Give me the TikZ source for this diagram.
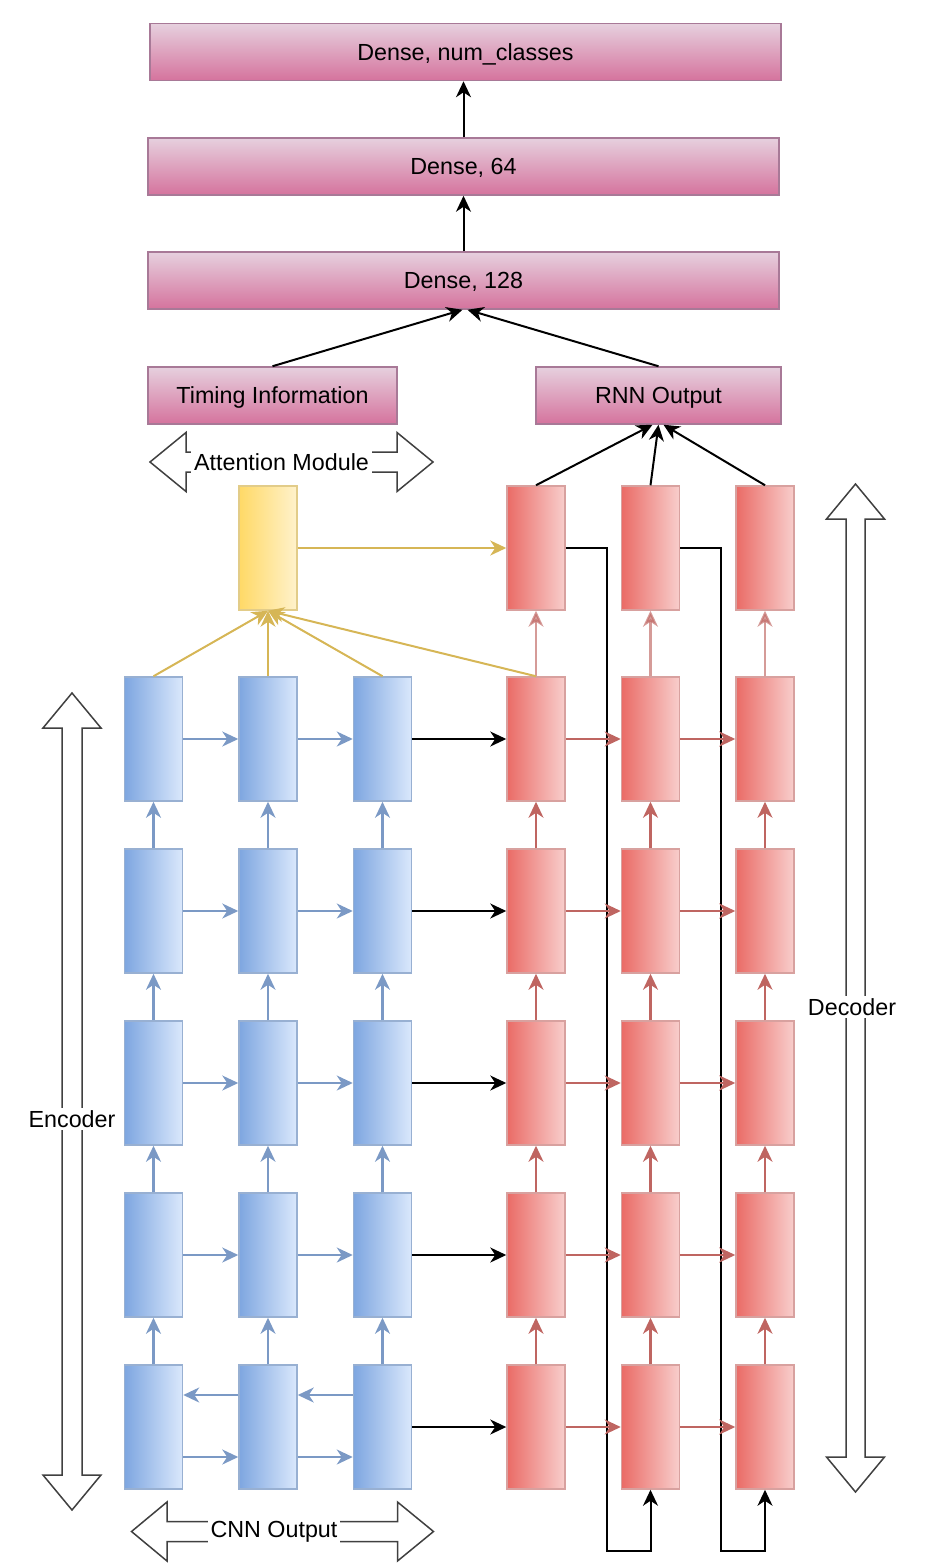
\documentclass[tikz,border=0pt]{standalone}
\usepackage{fontspec}
\setmainfont{Liberation Sans}
\usetikzlibrary{arrows.meta}

\definecolor{layerlight}{HTML}{E6D0DE}
\definecolor{layerdark}{HTML}{D5739D}
\definecolor{layerdraw}{HTML}{996185}
\definecolor{enclight}{HTML}{DAE8FC}
\definecolor{encdark}{HTML}{7EA6E0}
\definecolor{encline}{HTML}{6C8EBF}
\definecolor{declight}{HTML}{F8CECC}
\definecolor{decdark}{HTML}{EA6B66}
\definecolor{decline}{HTML}{B85450}
\definecolor{attlight}{HTML}{FFF2CC}
\definecolor{attdark}{HTML}{FFD966}
\definecolor{attline}{HTML}{D6B656}

\tikzset{
  txt/.style={font=\fontsize{23.3}{27}\selectfont},
  layer/.style={txt,minimum height=57pt,inner sep=0pt,line width=1.5pt,text depth=0pt,
    draw=layerdraw!85,top color=layerlight,bottom color=layerdark},
  cell/.style={minimum width=58pt,minimum height=124pt,inner sep=0pt,line width=1.5pt},
  enccell/.style={cell,draw=encline!70,left color=encdark,right color=enclight},
  deccell/.style={cell,draw=decline!55,left color=decdark,right color=declight},
  attcell/.style={cell,draw=attline!70,left color=attdark,right color=attlight},
  conn/.style={line width=2pt,black,->},
  encarrow/.style={line width=2.2pt,encline!90,->},
  decarrow/.style={line width=2.2pt,decline!90,->},
  attarrow/.style={line width=2pt,attline,->},
  bigarrow/.style={draw=black!75,line width=1.5pt,fill=white,line join=miter},
  tag/.style={txt,fill=white,inner sep=3pt}
}

\begin{document}
\begin{tikzpicture}[x=1pt,y=-1pt,>={Stealth[length=16pt,width=15pt,inset=5pt]}]
\useasboundingbox (0,0) rectangle (932,1564);

% dense head
\node[layer,minimum width=631pt] (out) at (465.5,52) {Dense, num\_classes};
\node[layer,minimum width=631pt] (d64) at (463.5,166.5) {Dense, 64};
\node[layer,minimum width=631pt] (d128) at (463.5,280.5) {Dense, 128};
\node[layer,minimum width=249pt] (timing) at (272.5,395.5) {Timing Information};
\node[layer,minimum width=245pt] (rnnout) at (658.5,395.5) {RNN Output};
\draw[conn] (d128.north) -- (d64.south);
\draw[conn] (d64.north) -- (out.south -| d64.south);
\draw[conn] (timing.north) -- ([xshift=-1pt]d128.south);
\draw[conn] (rnnout.north) -- ([xshift=4pt]d128.south);

% big arrows
\draw[bigarrow] (150,462) -- (186,432.5) -- (186,452) -- (397,452) -- (397,432.5) -- (433,462)
  -- (397,491.5) -- (397,472) -- (186,472) -- (186,491.5) -- cycle;
\node[tag] (attlabel) at (281.5,462) {Attention Module};
\draw[bigarrow] (131.5,1531.5) -- (167,1502) -- (167,1521.5) -- (397.5,1521.5) -- (397.5,1502) -- (433.5,1531.5)
  -- (397.5,1561) -- (397.5,1541.5) -- (167,1541.5) -- (167,1561) -- cycle;
\node[tag] (cnnlabel) at (274,1531.5) {CNN Output};
\draw[bigarrow] (72,693) -- (101,728) -- (82,728) -- (82,1475) -- (101,1475) -- (72,1510)
  -- (43,1475) -- (62,1475) -- (62,728) -- (43,728) -- cycle;
\node[tag,inner sep=2pt] (enclabel) at (72,1119) {Encoder};
\draw[bigarrow] (855.5,484) -- (884.5,519) -- (865,519) -- (865,1457) -- (884.5,1457) -- (855.5,1492)
  -- (826.5,1457) -- (846,1457) -- (846,519) -- (826.5,519) -- cycle;
\node[tag,inner sep=2pt] (declabel) at (852,1007) {Decoder};

% cells
\node[attcell] (att) at (268,548) {};
\foreach \c in {1,2,3}
  \node[deccell] (dec-0-\c) at ({536+114.5*(\c-1)},548) {};
\foreach \r in {1,...,5}{
  \foreach \c in {1,2,3}{
    \node[enccell] (enc-\r-\c) at ({153.5+114.5*(\c-1)},{567+172*\r}) {};
    \node[deccell] (dec-\r-\c) at ({536+114.5*(\c-1)},{567+172*\r}) {};
  }
}

% decoder feedback
\coordinate (bend-1) at (606.5,1550.5);
\coordinate (bend-2) at (721,1550.5);
\draw[conn] (dec-0-1.east) -| (bend-1) -| (dec-5-2.south);
\draw[conn] (dec-0-2.east) -| (bend-2) -| (dec-5-3.south);

% vertical links
\foreach \r [evaluate=\r as \s using int(\r+1)] in {1,...,4}
  \foreach \c in {1,2,3}{
    \draw[encarrow] (enc-\s-\c.north) -- (enc-\r-\c.south);
    \draw[decarrow] (dec-\s-\c.north) -- (dec-\r-\c.south);
  }
\foreach \c in {1,2,3}
  \draw[decarrow,opacity=0.65] (dec-1-\c.north) -- (dec-0-\c.south);

% horizontal links
\foreach \r in {1,...,5}{
  \draw[conn] (enc-\r-3.east) -- (dec-\r-1.west);
  \draw[decarrow] (dec-\r-1.east) -- (dec-\r-2.west);
  \draw[decarrow] (dec-\r-2.east) -- (dec-\r-3.west);
}
\foreach \r in {1,...,4}{
  \draw[encarrow] (enc-\r-1.east) -- (enc-\r-2.west);
  \draw[encarrow] (enc-\r-2.east) -- (enc-\r-3.west);
}
\draw[encarrow] ([yshift=-30pt]enc-5-1.east) -- ([yshift=-30pt]enc-5-2.west);
\draw[encarrow] ([yshift=-30pt]enc-5-2.east) -- ([yshift=-30pt]enc-5-3.west);
\draw[encarrow] ([yshift=32pt]enc-5-2.west) -- ([yshift=32pt]enc-5-1.east);
\draw[encarrow] ([yshift=32pt]enc-5-3.west) -- ([yshift=32pt]enc-5-2.east);

% attention
\foreach \c in {1,2,3}
  \draw[attarrow] (enc-1-\c.north) -- (att.south);
\draw[attarrow] (dec-1-1.north) -- (att.south);
\draw[attarrow] (att.east) -- (dec-0-1.west);

% to rnn output
\draw[conn] (dec-0-1.north) -- ([xshift=-6pt]rnnout.south);
\draw[conn] (dec-0-2.north) -- (rnnout.south);
\draw[conn] (dec-0-3.north) -- ([xshift=5pt]rnnout.south);
\end{tikzpicture}
\end{document}
